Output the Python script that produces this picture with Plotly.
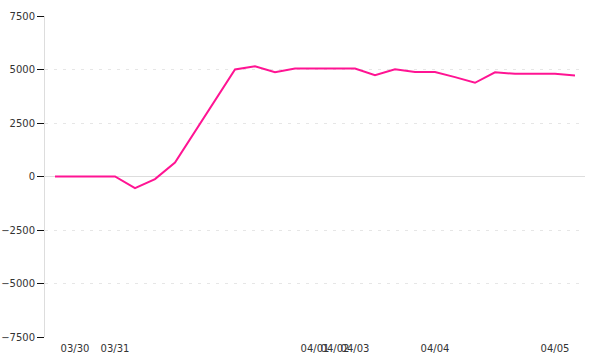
import plotly.graph_objects as go

values = [0, 0, 0, 0, -540, -120, 650, 2100, 3550, 5000, 5150, 4875, 5050, 5050,
          5050, 5050, 4730, 5010, 4880, 4880, 4645, 4380, 4870, 4800, 4800, 4800, 4720]
x_index = list(range(len(values)))
tick_positions = [1, 3, 13, 14, 15, 19, 25]
tick_labels = ["03/30", "03/31", "04/01", "04/02", "04/03", "04/04", "04/05"]
y_ticks = [-7500, -5000, -2500, 0, 2500, 5000, 7500]

fig = go.Figure()
fig.add_trace(go.Scatter(
    x=x_index, y=values, mode="lines",
    line=dict(color="#ff1493", width=2),
    showlegend=False, hoverinfo="skip",
))

fig.update_layout(
    width=600, height=360,
    margin=dict(l=45, r=15, t=16, b=23),
    paper_bgcolor="white", plot_bgcolor="white",
    font=dict(family="DejaVu Sans", size=10, color="#333333"),
    xaxis=dict(
        range=[-0.5, 26.5], tickmode="array",
        tickvals=tick_positions, ticktext=tick_labels, tickangle=0,
        showgrid=False, zeroline=False, showline=False, ticks="",
        ticklabelstandoff=4, automargin=False,
    ),
    yaxis=dict(
        range=[-7500, 7500], tickmode="array", tickvals=y_ticks,
        showgrid=True, gridcolor="#e6e6e6", griddash="3px,6px", gridwidth=1,
        zeroline=True, zerolinecolor="#dddddd", zerolinewidth=1,
        showline=True, linecolor="#dddddd", linewidth=1,
        ticks="outside", ticklen=7, tickcolor="#111111", tickwidth=1,
        automargin=False,
    ),
)

fig.write_html("out.html")
